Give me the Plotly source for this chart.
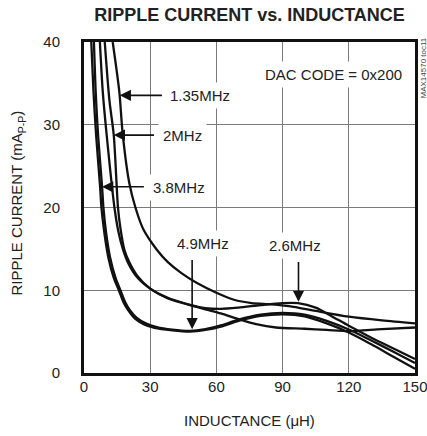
import plotly.graph_objects as go

# curvas (inductancia uH, corriente mA p-p)
l_135 = [13, 16, 17.5, 20.5, 23.3, 27, 33, 38, 44, 51, 60, 68, 76, 85, 95, 105, 120, 135, 150]
i_135 = [40, 34, 29, 23, 20, 17.3, 14.9, 13.4, 12.1, 10.9, 9.7, 8.85, 8.45, 8.3, 8.0, 7.5, 6.8, 6.35, 6.0]

l_2 = [9.4, 11.5, 13.5, 15.4, 16.5, 18.3, 20.5, 24, 30, 38, 47, 55, 62, 70, 78, 87, 100, 110, 120, 135, 150]
i_2 = [40, 33, 28.7, 20, 17.5, 14.9, 13.4, 11.8, 10.2, 9.1, 8.3, 7.7, 7.2, 6.5, 5.9, 5.5, 5.35, 5.2, 5.05, 5.3, 5.5]

l_26 = [7.2, 8.5, 10.3, 13.8, 15.5, 17.7, 20, 24, 30, 38, 47, 55, 62, 70, 80, 90, 97, 105, 112, 120, 130, 140, 150]
i_26 = [40, 34, 28.7, 20, 17.2, 14.9, 13.3, 11.6, 10.2, 9.0, 8.3, 7.85, 7.75, 7.9, 8.2, 8.45, 8.45, 7.9, 6.9, 5.7, 4.3, 3.0, 1.7]

l_38 = [4.5, 5.3, 6.4, 8.2, 8.8, 10, 11.8, 14.3, 16.5, 18.8, 20.8, 23.8, 28, 33, 40, 48, 55, 62, 70, 80, 90, 100, 110, 120, 130, 140, 150]
i_38 = [40, 34, 28.7, 22.5, 20, 17, 14, 11.5, 10, 8.5, 7.6, 6.7, 6.0, 5.55, 5.25, 5.1, 5.3, 5.75, 6.45, 7.05, 7.25, 7.05, 6.3, 5.25, 3.95, 2.6, 1.2]

l_49 = [3.3, 4.3, 5.5, 7.3, 7.9, 9.2, 11, 13.5, 15.8, 18, 20, 23, 27, 32, 40, 48, 55, 62, 70, 80, 90, 100, 110, 120, 130, 140, 150]
i_49 = [40, 34, 28.7, 22.5, 20, 17, 14, 11.5, 10, 8.5, 7.6, 6.6, 5.9, 5.45, 5.15, 5.0, 5.2, 5.6, 6.3, 6.9, 7.1, 6.85, 6.0, 4.9, 3.5, 2.0, 0.5]

x_ticks = [0, 30, 60, 90, 120, 150]
y_ticks = [0, 10, 20, 30, 40]

fuente = "Liberation Sans, Arial"

fig = go.Figure()
for xs, ys, nombre in [(l_135, i_135, "1.35MHz"), (l_2, i_2, "2MHz"), (l_26, i_26, "2.6MHz"),
                       (l_38, i_38, "3.8MHz"), (l_49, i_49, "4.9MHz")]:
    fig.add_trace(go.Scatter(x=xs, y=ys, mode="lines", name=nombre,
                             line=dict(color="#111111", width=2.3, shape="spline", smoothing=0.8)))

# textos con fondo blanco (cortan la rejilla)
textos = [("1.35MHz", 52.7, 33.5), ("2MHz", 44.8, 28.7), ("3.8MHz", 43.0, 22.45),
          ("4.9MHz", 53.8, 15.6), ("2.6MHz", 95.5, 15.4), ("DAC CODE = 0x200", 112.9, 36.1)]
for t, x, y in textos:
    fig.add_annotation(x=x, y=y, text=t, showarrow=False, bgcolor="white", borderpad=4,
                       font=dict(family=fuente, size=15, color="#222"))

# flechas
flechas = [(16.2, 33.55, 36.0, 33.55), (13.5, 28.75, 32.4, 28.75), (8.2, 22.5, 27.8, 22.5),
           (49.0, 5.3, 49.0, 13.85), (97.2, 8.6, 97.2, 13.6)]
for x, y, ax, ay in flechas:
    fig.add_annotation(x=x, y=y, ax=ax, ay=ay, axref="x", ayref="y", text="",
                       showarrow=True, arrowhead=2, arrowsize=1.4, arrowwidth=1.6,
                       arrowcolor="#111111")

# titulos de ejes
fig.add_annotation(x=0.5, y=0, xref="paper", yref="paper", yshift=-47, yanchor="middle",
                   text="INDUCTANCE (μH)", showarrow=False,
                   font=dict(family=fuente, size=15, color="#222"))
fig.add_annotation(x=0, y=0.512, xref="paper", yref="paper", xshift=-66, xanchor="center",
                   yanchor="middle", text="RIPPLE CURRENT (mA<sub>P-P</sub>)", showarrow=False,
                   textangle=-90, font=dict(family=fuente, size=15, color="#222"))
fig.add_annotation(x=1, y=0.92, xref="paper", yref="paper", xshift=8, xanchor="center",
                   yanchor="middle", text="MAX14570 toc11", showarrow=False, textangle=-90,
                   font=dict(family=fuente, size=8, color="#444"))

fig.update_xaxes(range=[0, 150], tickvals=x_ticks, showgrid=True, gridcolor="#7a7a7a", gridwidth=1,
                 showline=True, linecolor="#111111", linewidth=3, mirror=True, zeroline=False,
                 automargin=False, ticks="", ticklabelstandoff=-2, ticklabeloverflow="allow",
                 tickfont=dict(family=fuente, size=15, color="#222"))
fig.update_yaxes(range=[0, 40], tickvals=y_ticks, showgrid=True, gridcolor="#7a7a7a", gridwidth=1,
                 showline=True, linecolor="#111111", linewidth=3, mirror=True, zeroline=False,
                 automargin=False, ticks="", ticklabelstandoff=18,
                 tickfont=dict(family=fuente, size=15, color="#222"))

fig.update_layout(width=427, height=436, showlegend=False,
                  plot_bgcolor="white", paper_bgcolor="white",
                  margin=dict(l=84, r=12, t=42, b=63, autoexpand=False),
                  title=dict(text="<b>RIPPLE CURRENT vs. INDUCTANCE</b>", x=249.5 / 427, xanchor="center",
                             y=1 - 15 / 436, yanchor="middle", font=dict(family=fuente, size=18, color="#222")))

# sin margen del body para que la figura empiece en 0,0
fig.write_html("out.html", config={"displayModeBar": False},
               post_script="document.body.style.margin='0';")
